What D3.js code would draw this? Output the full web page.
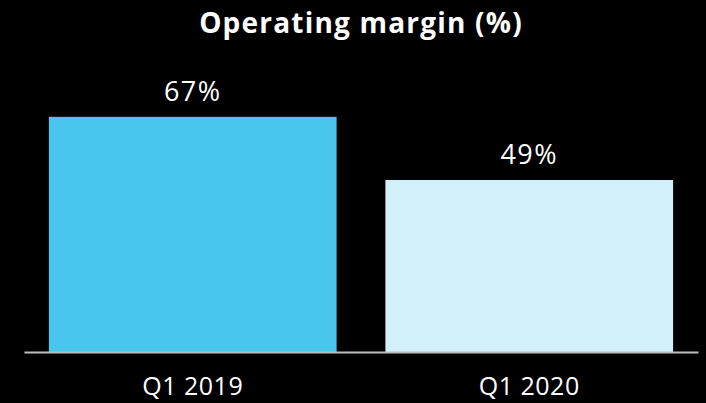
<!DOCTYPE html>
<html>
<head>
<meta charset="utf-8">
<script src="https://cdn.jsdelivr.net/npm/d3@7"></script>
<style>
  html, body { margin: 0; padding: 0; background: #000; }
  svg { display: block; font-family: "Open Sans", sans-serif; }
</style>
</head>
<body>
<svg id="chart" width="706" height="403"></svg>
<script>
// chart data
const categories = ['Q1 2019', 'Q1 2020'];
const margins = [67, 49];
const barColors = ['#48c6ee', '#d2f0fa'];

const svg = d3.select('#chart');
const baseY = 352;

const x = d3.scaleBand()
    .domain(categories)
    .range([24, 698])
    .paddingInner(0.145)
    .paddingOuter(0.074);

const y = d3.scaleLinear()
    .domain([0, 100])
    .range([baseY, 1]);

svg.append('rect')
    .attr('width', 706)
    .attr('height', 403)
    .attr('fill', '#000');

// title
svg.append('text')
    .attr('x', 361)
    .attr('y', 33)
    .attr('text-anchor', 'middle')
    .attr('fill', '#fff')
    .attr('font-size', 28)
    .attr('font-weight', 700)
    .attr('letter-spacing', 1.2)
    .text('Operating margin (%)');

// bars
svg.selectAll('rect.bar')
    .data(margins)
    .enter()
    .append('rect')
    .attr('class', 'bar')
    .attr('x', function(d, i) { return x(categories[i]); })
    .attr('y', function(d) { return y(d); })
    .attr('width', x.bandwidth())
    .attr('height', function(d) { return baseY - y(d); })
    .attr('fill', function(d, i) { return barColors[i]; });

// value labels
svg.selectAll('text.value')
    .data(margins)
    .enter()
    .append('text')
    .attr('class', 'value')
    .attr('x', function(d, i) { return x(categories[i]) + x.bandwidth() / 2; })
    .attr('y', function(d) { return y(d) - 16; })
    .attr('text-anchor', 'middle')
    .attr('fill', '#fff')
    .attr('font-size', 27)
    .attr('letter-spacing', 1.5)
    .text(function(d) { return d + '%'; });

// x axis
const axis = svg.append('g')
    .attr('transform', 'translate(0,' + baseY + ')')
    .call(d3.axisBottom(x).tickSize(0).tickSizeOuter(0));

axis.select('.domain')
    .attr('stroke', '#bdbdbd')
    .attr('stroke-width', 2);

axis.selectAll('text')
    .attr('y', 43)
    .attr('dy', 0)
    .attr('fill', '#fff')
    .attr('font-size', 25)
    .attr('letter-spacing', 0.5)
    .attr('font-family', '"Open Sans", sans-serif');
</script>
</body>
</html>
